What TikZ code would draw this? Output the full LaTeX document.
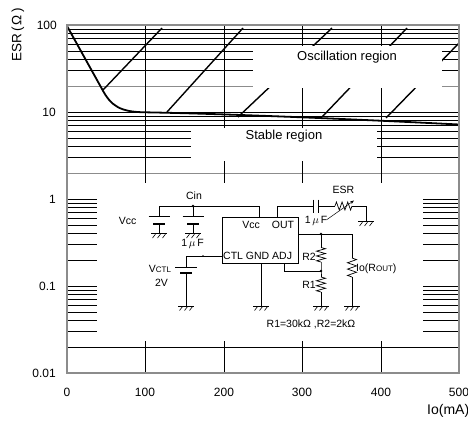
\documentclass[tikz,border=0pt]{standalone}
\usepackage{fontspec}
\setmainfont{Liberation Sans}
\usetikzlibrary{arrows.meta}
\newcommand\zigv[3]{%
 \pgfmathsetmacro\zs{(#3-#2)/6}%
 \draw[wire] (#1,#2) -- ++(4.5,0.5*\zs) -- ++(-9,\zs) -- ++(9,\zs) -- ++(-9,\zs) -- ++(9,\zs) -- ++(-9,\zs) -- (#1,#3);}
\newcommand\zigh[3]{%
 \pgfmathsetmacro\zs{(#3-#2)/6}%
 \draw[wire] (#2,#1) -- ++(0.5*\zs,-4) -- ++(\zs,8) -- ++(\zs,-8) -- ++(\zs,8) -- ++(\zs,-8) -- ++(\zs,8) -- (#3,#1);}
\begin{document}
\begin{tikzpicture}[x=1pt,y=-1pt,
  grid/.style={line width=0.6pt,black},
  gridg/.style={line width=0.6pt,black!45},
  wire/.style={line width=0.7pt},
  lbl/.style={inner sep=0pt, font=\fontsize{10.5}{12}\selectfont},
  tick/.style={inner sep=0pt, font=\fontsize{12}{14}\selectfont},
  big/.style={inner sep=0pt, font=\fontsize{13}{15}\selectfont},
  gnd/.pic={\draw[wire] (-8,0)--(8,0); \foreach \i in {-5,0,5} \draw[line width=0.6pt] (\i+1.5,0.6)--(\i-1.5,4.5);}
]
\useasboundingbox (0,0) rectangle (468,423);
\fill[white] (0,0) rectangle (468,423);
% horizontal grid
\foreach \t in {25,112,199,286}{
  \foreach \o in {4.0,8.4,13.5,19.3,26.2,34.6,45.5}
    \draw[grid] (67,\t+\o) -- (459,\t+\o);
}
\draw[gridg] (67,85.8) -- (459,85.8);
\draw[gridg] (67,172.8) -- (459,172.8);
\draw[grid] (67,259.8) -- (459,259.8);
\draw[grid] (67,346.8) -- (459,346.8);
\foreach \t in {112,199,286} \draw[grid] (67,\t) -- (459,\t);
% vertical grid
\foreach \x in {145,224,302,381} \draw[grid] (\x,25) -- (\x,373);
% hatch lines
\begin{scope}
\clip (67,25) rectangle (459,373);
\draw[line width=1.4pt] (103,90) -- (162,28);
\draw[line width=1.4pt] (167,112) -- (243,28);
\draw[line width=1.4pt] (238,117) -- (332,28);
\draw[line width=1.4pt] (322,117) -- (407,28);
\draw[line width=1.4pt] (386,118) -- (461,41);
\end{scope}
% white label boxes
\fill[white] (253,46) rectangle (442,87.6);
\fill[white] (191,127.6) rectangle (377,161);
\fill[white] (97,183) rectangle (423,341);
% ESR curve
\draw[line width=1.8pt] (67,26) -- (102,89) .. controls (111,106) and (120,112) .. (145,112.3) .. controls (210,113.5) and (320,117.5) .. (459,124.5);
% frame
\draw[line width=2pt, black!45] (67,25) rectangle (459,373);
% region labels
\node[big] (osc) at (347,57) {Oscillation region};
\node[big] (stab) at (284,136) {Stable region};
% ticks
\node[tick,anchor=east] (y100) at (57,25) {100};
\node[tick,anchor=east] (y10) at (56,112) {10};
\node[tick,anchor=east] (y1) at (56,199) {1};
\node[tick,anchor=east] (y01) at (56,286) {0.1};
\node[tick,anchor=east] (y001) at (56,373) {0.01};
\node[tick] (x0) at (67,392) {0};
\node[tick] (x100) at (145,392) {100};
\node[tick] (x200) at (224,392) {200};
\node[tick] (x300) at (302,392) {300};
\node[tick] (x400) at (381,392) {400};
\node[tick] (x500) at (459,392) {500};
\node[inner sep=0pt,anchor=west,font=\fontsize{14}{16}\selectfont] (xt) at (427,411) {Io(mA)};
\node[inner sep=0pt,rotate=90,font=\fontsize{13.5}{15}\selectfont] (yt) at (18,35) {ESR\,(\,Ω\,)};
% ---------- circuit ----------
\coordinate (c1) at (159,206);
\coordinate (c2) at (193,206);
\coordinate (vccpin) at (259,206);
% top wire
\draw[wire] (c1) -- (vccpin) -- (259,217);
\fill (c2) circle (1.3);
% caps
\foreach \cx in {159,193}{
  \draw[wire] (\cx,206) -- (\cx,216.5);
  \draw[wire] (\cx-10.5,216.5) -- (\cx+10.5,216.5);
  \draw[line width=2pt] (\cx-6,223.5) -- (\cx+6,223.5);
  \draw[wire] (\cx,223.5) -- (\cx,233.5);
  \pic at (\cx,233.5) {gnd};
}
\node[lbl] (cin) at (194,196) {Cin};
\node[lbl] (vccl) at (127.5,221) {Vcc};
\node[lbl] (c1uf) at (192.5,244) {1\,$\mu$\,F};
% IC
\draw[wire] (222,217) rectangle (298,263);
\node[lbl] (icvcc) at (251,224.5) {Vcc};
\node[lbl] (icout) at (283,224.5) {OUT};
\node[lbl,anchor=west] (icrow) at (223,256) {CTL GND ADJ};
% OUT cap + ESR
\draw[wire] (277,217) -- (277,206) -- (313,206);
\draw[wire] (313,199.5) -- (313,212.5);
\draw[wire] (318,199.5) -- (318,212.5);
\draw[wire] (318,206) -- (335,206);
\zigh{206}{335}{352}
\draw[wire] (352,206) -- (366,206) -- (366,221.5);
\pic at (366,221.5) {gnd};
\draw[line width=0.5pt,-{Stealth[length=4pt,width=3pt]}] (327,219.5) -- (354,200.5);
\node[lbl] (esrl) at (343.5,190) {ESR};
\node[lbl] (o1uf) at (316,221) {1\,$\mu$\,F};
% output node
\coordinate (j1) at (321,234);
\coordinate (j2) at (321,271);
\draw[wire] (298,234) -- (352,234) -- (352,258);
\zigv{352}{258}{277}
\draw[wire] (352,277) -- (352,306);
\pic at (352,306) {gnd};
\fill (j1) circle (1.3);
\draw[wire] (j1) -- (321,247.5);
\zigv{321}{247.5}{262}
\draw[wire] (321,262) -- (j2) -- (321,277);
\zigv{321}{277}{292}
\draw[wire] (321,292) -- (321,306);
\pic at (321,306) {gnd};
\fill (j2) circle (1.3);
\draw[wire] (284,263) -- (284,271) -- (j2);
\node[lbl] (r2l) at (309,257) {R2};
\node[lbl] (r1l) at (309,285) {R1};
\node[lbl,anchor=west] (iol) at (356,269) {Io(R{\fontsize{8}{9}\selectfont OUT})};
% GND pin
\draw[wire] (261,263) -- (261,306);
\pic at (261,306) {gnd};
% CTL pin and battery
\draw[wire] (222,256) -- (186,256) -- (186,267);
\fill (203,256) circle (0.9);
\draw[wire] (175,267) -- (197,267);
\draw[line width=2pt] (180,273.3) -- (192,273.3);
\draw[wire] (186,273.3) -- (186,306);
\pic at (186,306) {gnd};
\node[lbl] (vctl) at (160,269) {V{\fontsize{8}{9}\selectfont CTL}};
\node[lbl] (v2) at (161.5,283) {2V};
\node[lbl] (rvals) at (311,324) {R1=30kΩ ,R2=2kΩ};
\end{tikzpicture}
\end{document}
